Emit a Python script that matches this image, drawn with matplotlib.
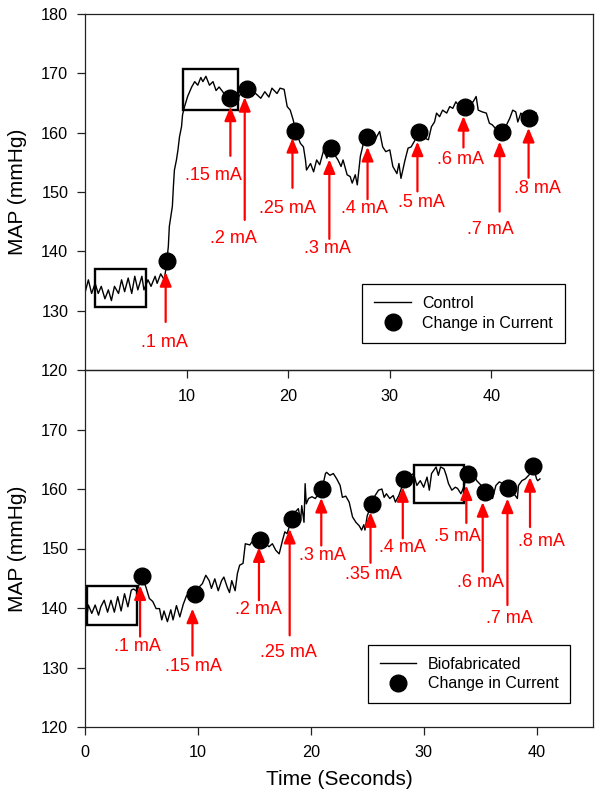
import matplotlib
matplotlib.use("Agg")
import matplotlib.pyplot as plt
from matplotlib.lines import Line2D
from matplotlib.patches import Rectangle

plt.rcParams['font.family'] = ['Liberation Sans', 'DejaVu Sans']

# ---------------- DATA ----------------
# Control (top panel) MAP trace
ctrl_t = [0.0, 0.33, 0.65, 1.0, 1.3, 1.6, 1.96, 2.3, 2.6, 2.9, 3.3, 3.6, 3.9, 4.25, 4.6, 4.9,
          5.2, 5.6, 5.8, 6.2, 6.5, 6.9, 7.1, 7.45, 7.8, 8.0, 8.2, 8.3, 8.6, 8.7, 8.8, 9.0,
          9.15, 9.3, 9.5, 9.6, 9.8, 10.1, 10.5, 10.8, 11.1, 11.4, 11.6, 11.9, 12.25, 12.6,
          12.9, 13.2, 13.6, 13.9, 14.3, 14.7, 15.1, 15.5, 15.9, 16.3, 16.8, 17.3, 17.7, 18.1,
          18.4, 18.9, 19.2, 19.6, 19.9, 20.2, 20.5, 20.7, 21.2, 21.5, 21.7, 21.8, 22.2, 22.5,
          22.8, 23.1, 23.5, 23.8, 24.2, 24.6, 24.9, 25.2, 25.4, 25.8, 26.1, 26.3, 26.6, 26.8,
          27.1, 27.4, 27.8, 28.4, 28.7, 29.0, 29.3, 29.6, 30.0, 30.3, 30.7, 30.9, 31.1, 31.5,
          31.8, 32.1, 32.5, 32.9, 33.4, 33.8, 34.1, 34.4, 34.6, 34.9, 35.2, 35.6, 35.9, 36.2,
          36.5, 36.9, 37.4, 37.8, 38.2, 38.5, 38.7, 39.1, 39.5, 39.8, 40.1, 40.5, 40.9, 41.4,
          41.8, 42.1, 42.4, 42.6, 42.9, 43.3, 43.7, 44.1, 44.4]
ctrl_map = [133.0, 135.2, 132.9, 134.6, 132.9, 134.1, 132.0, 133.5, 131.7, 134.1, 132.9, 135.2,
            133.2, 135.5, 132.9, 135.8, 133.5, 135.8, 133.5, 135.2, 134.1, 135.8, 134.6, 136.2,
            135.2, 137.5, 140.8, 144.2, 147.6, 150.9, 153.7, 155.4, 157.1, 159.3, 161.0, 163.0,
            164.4, 166.1, 167.7, 168.6, 168.0, 169.3, 168.6, 169.5, 168.0, 168.6, 167.1, 167.7,
            166.8, 166.0, 165.8, 166.5, 166.0, 167.0, 167.3, 166.8, 166.6, 165.8, 166.9, 166.0,
            167.5, 166.6, 167.5, 167.3, 164.4, 163.8, 162.1, 160.4, 158.2, 157.6, 155.4, 153.7,
            154.8, 153.4, 155.4, 154.6, 157.1, 155.7, 157.4, 156.2, 155.4, 154.3, 155.4, 152.9,
            152.6, 151.5, 152.9, 151.2, 156.0, 158.2, 159.1, 158.2, 159.3, 160.2, 157.6, 156.8,
            157.1, 154.3, 153.1, 154.8, 152.3, 155.4, 157.4, 157.6, 158.8, 160.1, 159.1, 158.8,
            161.0, 161.8, 163.3, 162.7, 163.8, 163.3, 164.4, 164.1, 165.2, 164.3, 164.4, 164.8,
            165.2, 166.1, 163.8, 163.5, 163.3, 161.6, 161.3, 160.5, 160.1, 161.0, 162.4, 163.8,
            163.5, 161.8, 163.3, 162.6, 162.4, 163.0, 163.3]

# Control: changes in current
ctrl_stim_t = [8.1, 14.3, 15.9, 20.7, 24.2, 27.8, 32.9, 37.4, 41.0, 43.7]
ctrl_stim_map = [138.4, 165.8, 167.3, 160.3, 157.4, 159.2, 160.1, 164.4, 160.1, 162.4]
ctrl_stim_labels = [".1 mA", ".15 mA", ".2 mA", ".25 mA", ".3 mA", ".4 mA", ".5 mA",
                    ".6 mA", ".7 mA", ".8 mA"]

# Biofabricated (bottom panel) MAP trace
bio_t = [0.0, 0.2, 0.3, 0.6, 0.9, 1.2, 1.4, 1.7, 2.0, 2.3, 2.6, 2.9, 3.2, 3.5, 3.8, 4.1, 4.3,
         4.6, 5.05, 5.4, 5.7, 6.0, 6.3, 6.6, 6.8, 7.0, 7.3, 7.6, 7.8, 8.1, 8.4, 8.7, 9.0, 9.7,
         10.1, 10.4, 10.7, 11.0, 11.2, 11.5, 11.8, 12.1, 12.3, 12.6, 12.8, 13.0, 13.3, 13.5,
         13.7, 14.0, 14.2, 14.6, 14.9, 15.5, 16.0, 16.3, 16.6, 16.9, 17.2, 17.5, 17.7, 17.9,
         18.3, 18.6, 18.9, 19.1, 19.2, 19.4, 19.5, 19.6, 19.8, 20.1, 20.4, 21.0, 21.3, 21.4,
         21.7, 22.0, 22.3, 22.6, 22.8, 23.1, 23.4, 23.7, 24.0, 24.3, 24.5, 24.7, 24.8, 25.0,
         25.4, 25.7, 26.0, 26.3, 26.5, 26.7, 27.0, 27.3, 27.5, 27.8, 28.3, 28.7, 29.1, 29.4,
         29.7, 30.0, 30.3, 30.5, 30.7, 31.1, 31.3, 31.5, 31.8, 32.0, 32.2, 32.5, 32.8, 33.0,
         33.3, 33.5, 33.9, 34.4, 34.7, 35.1, 35.4, 35.9, 36.1, 36.4, 36.7, 37.1, 37.5, 38.0,
         38.3, 38.4, 38.7, 39.0, 39.4, 39.7, 40.0, 40.1, 40.3]
bio_map = [138.4, 139.1, 140.5, 139.1, 140.5, 138.8, 140.2, 141.3, 139.3, 141.3, 139.3, 141.9,
           139.5, 142.4, 140.2, 143.0, 143.2, 142.8, 145.4, 143.5, 141.6, 141.1, 139.9, 139.9,
           138.0, 139.5, 137.7, 139.7, 138.0, 140.4, 138.5, 140.6, 142.1, 142.4, 143.5, 144.1,
           145.5, 144.6, 143.3, 144.9, 142.9, 144.6, 145.2, 143.5, 142.6, 144.6, 142.9, 145.8,
           147.2, 147.5, 150.8, 150.6, 151.4, 151.5, 150.8, 150.3, 150.8, 149.7, 149.1, 151.4,
           152.8, 152.5, 154.8, 156.1, 156.7, 154.7, 157.2, 154.4, 160.9, 157.5, 158.4, 158.7,
           158.4, 160.0, 162.6, 162.8, 162.3, 162.6, 161.7, 160.6, 158.6, 158.8, 157.8, 155.3,
           154.4, 153.8, 153.1, 154.0, 153.1, 155.5, 157.5, 158.9, 159.8, 160.0, 158.6, 159.2,
           158.4, 158.9, 157.8, 158.9, 161.6, 162.0, 162.6, 160.6, 161.4, 160.3, 162.0, 159.8,
           162.6, 163.7, 162.3, 163.7, 163.4, 162.3, 160.9, 159.8, 160.3, 160.1, 159.2, 160.1,
           162.5, 162.6, 161.4, 160.6, 159.5, 159.5, 158.4, 160.6, 161.2, 160.8, 160.2, 159.2,
           158.4, 160.6, 161.4, 161.7, 162.5, 163.9, 161.7, 161.4, 161.7]

# Biofabricated: changes in current
bio_stim_t = [5.05, 9.7, 15.5, 18.3, 21.0, 25.4, 28.3, 33.9, 35.4, 37.5, 39.7]
bio_stim_map = [145.4, 142.4, 151.5, 154.9, 160.0, 157.5, 161.6, 162.5, 159.5, 160.2, 163.9]
bio_stim_labels = [".1 mA", ".15 mA", ".2 mA", ".25 mA", ".3 mA", ".35 mA", ".4 mA",
                   ".5 mA", ".6 mA", ".7 mA", ".8 mA"]

# ---------------- LAYOUT (annotation placement) ----------------
# (arrow x, arrow tail y, arrow tip y, text x, text y) in data units
ctrl_ann = [(7.94, 128.1, 136.5, 7.84, 124.7),
            (14.31, 156.1, 164.4, 12.62, 152.7),
            (15.72, 145.3, 166.0, 14.64, 142.1),
            (20.42, 150.7, 159.1, 19.9, 147.3),
            (24.05, 142.1, 155.5, 23.87, 140.4),
            (27.81, 148.8, 157.6, 27.52, 147.3),
            (32.72, 150.1, 158.5, 33.15, 148.3),
            (37.25, 157.5, 162.8, 36.94, 155.5),
            (40.81, 146.7, 158.5, 39.85, 143.6),
            (43.66, 152.4, 160.8, 44.54, 150.6)]
bio_ann = [(4.88, 135.2, 143.8, 4.66, 133.6),
           (9.52, 132.0, 139.9, 9.58, 130.1),
           (15.41, 141.3, 150.2, 15.35, 139.7),
           (18.13, 135.4, 153.3, 18.04, 132.6),
           (20.93, 150.5, 158.5, 21.0, 148.9),
           (25.29, 147.6, 156.1, 25.53, 145.7),
           (28.15, 151.7, 160.3, 28.1, 150.2),
           (33.78, 154.3, 160.6, 32.95, 152.1),
           (35.23, 146.1, 157.8, 35.02, 144.3),
           (37.42, 140.5, 158.4, 37.6, 138.2),
           (39.42, 153.6, 162.0, 40.39, 151.2)]
ctrl_boxes = [(1.0, 130.7, 5.0, 6.4), (9.6, 163.9, 5.5, 6.8)]
bio_boxes = [(0.2, 137.2, 4.4, 6.5), (29.1, 157.6, 4.5, 6.5)]

RED = '#FF0000'
W, H = 602, 806
fig = plt.figure(figsize=(W / 100, H / 100), dpi=100)
ax_top = fig.add_axes([85 / W, 1 - 370 / H, 508 / W, 356 / H], facecolor='none')
ax_bot = fig.add_axes([85 / W, 1 - 727 / H, 508 / W, 357 / H], facecolor='none')
ax_top.set_zorder(3)


def draw_panel(ax, t, v, st, sv, labels, ann, boxes):
    ax.plot(t, v, color='black', lw=1.0, zorder=2)
    for (x0, y0, w, h) in boxes:
        ax.add_patch(Rectangle((x0, y0), w, h, fill=False, edgecolor='black', lw=1.7, zorder=3))
    ax.plot(st, sv, 'o', color='black', ms=12, zorder=4)
    for lab, (ax_x, tail, tip, tx, ty) in zip(labels, ann):
        ax.annotate('', xy=(ax_x, tip), xytext=(ax_x, tail),
                    arrowprops=dict(arrowstyle='-|>,head_length=0.6,head_width=0.25',
                                    color=RED, lw=1.6, mutation_scale=14,
                                    shrinkA=0, shrinkB=0),
                    zorder=5)
        ax.text(tx, ty, lab, color=RED, fontsize=13, ha='center', va='center', zorder=5)
    handles = [Line2D([], [], color='black', lw=1.0),
               Line2D([], [], marker='o', color='black', ls='none', ms=12)]
    return handles


h1 = draw_panel(ax_top, ctrl_t, ctrl_map, ctrl_stim_t, ctrl_stim_map, ctrl_stim_labels,
                ctrl_ann, ctrl_boxes)
h2 = draw_panel(ax_bot, bio_t, bio_map, bio_stim_t, bio_stim_map, bio_stim_labels,
                bio_ann, bio_boxes)

ax_top.set_xlim(0, 50)
ax_top.set_ylim(120, 180)
ax_top.set_xticks([10, 20, 30, 40])
ax_top.set_yticks(list(range(120, 181, 10)))
ax_bot.set_xlim(0, 45)
ax_bot.set_ylim(120, 180)
ax_bot.set_xticks([0, 10, 20, 30, 40])
ax_bot.set_yticks(list(range(120, 171, 10)))

for ax in (ax_top, ax_bot):
    for s in ax.spines.values():
        s.set_linewidth(0.9)
        s.set_color('#222222')
    ax.tick_params(direction='out', length=6, width=0.9, labelsize=11.7, color='#222222')
    ax.tick_params(axis='y', pad=6)
    ax.set_ylabel('MAP (mmHg)', fontsize=15)
    ax.yaxis.set_label_coords(-0.114, 0.5)
ax_top.tick_params(axis='x', pad=8)
ax_bot.tick_params(axis='x', pad=7)

ax_bot.set_xlabel('Time (Seconds)', fontsize=15)
ax_bot.xaxis.set_label_coords(0.5, -0.12)

leg_kw = dict(fontsize=11.5, frameon=True, fancybox=False, framealpha=1, edgecolor='black',
              handlelength=2.3, handletextpad=0.7, borderaxespad=0, borderpad=0.75,
              labelspacing=0.3, loc='lower left')
l1 = ax_top.legend(h1, ['Control', 'Change in Current'], bbox_to_anchor=(0.546, 0.077), **leg_kw)
l2 = ax_bot.legend(h2, ['Biofabricated', 'Change in Current'], bbox_to_anchor=(0.5565, 0.066), **leg_kw)
for l in (l1, l2):
    l.get_frame().set_linewidth(0.9)
    l.set_zorder(6)

fig.savefig('out.png', dpi=100)
